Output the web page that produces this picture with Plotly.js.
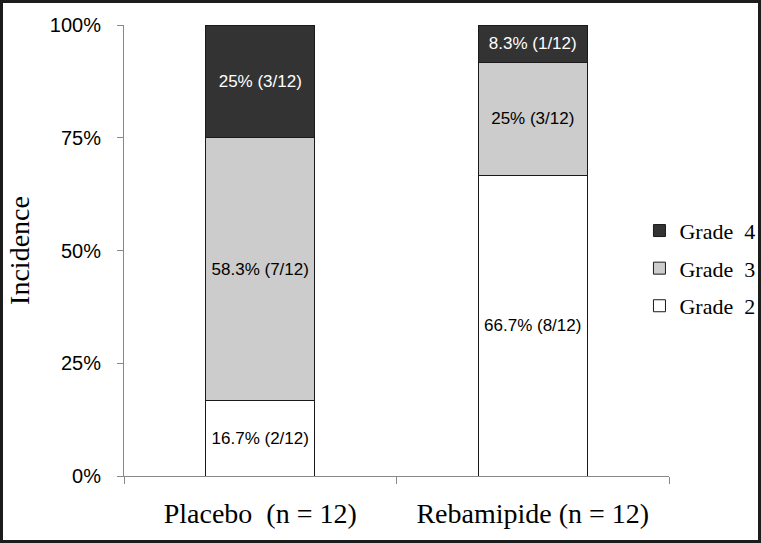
<!DOCTYPE html>
<html>
<head>
<meta charset="utf-8">
<script src="https://cdn.plot.ly/plotly-3.0.1.min.js"></script>
<style>
  body { margin: 0; background: #fff; }
  #frame { width: 755px; height: 537px; border: 3px solid #1c1c1c; }
</style>
</head>
<body>
<div id="frame"><div id="incidenceChart"></div></div>
<script>
// incidence by grade
const groups = ["Placebo\u00a0\u00a0(n = 12)", "Rebamipide (n = 12)"];
const grade2 = [16.7, 66.7];
const grade3 = [58.3, 25];
const grade4 = [25, 8.3];
const grade2Text = ["16.7% (2/12)", "66.7% (8/12)"];
const grade3Text = ["58.3% (7/12)", "25% (3/12)"];
const grade4Text = ["25% (3/12)", "8.3% (1/12)"];
const yTicks = [0, 25, 50, 75, 100];
const yTickText = ["0%", "25%", "50%", "75%", "100%"];

function plotIncidence() {
  const sans = "Liberation Sans, Arial, sans-serif";
  const serif = "Liberation Serif, Times New Roman, serif";
  const common = {
    x: groups,
    type: "bar",
    width: 0.4,
    textposition: "inside",
    insidetextanchor: "middle",
    textangle: 0,
    constraintext: "none",
    hoverinfo: "skip",
  };

  const trace = [
    {
      ...common,
      y: grade2,
      text: grade2Text,
      name: "Grade\u00a0\u00a02",
      legendgroup: "g2",
      legendrank: 3,
      marker: { color: "#ffffff", line: { color: "#1a1a1a", width: 1 } },
      textfont: { family: sans, size: 17, color: "#000" },
    },
    {
      ...common,
      y: grade3,
      text: grade3Text,
      name: "Grade\u00a0\u00a03",
      legendgroup: "g3",
      legendrank: 2,
      marker: { color: "#cccccc", line: { color: "#1a1a1a", width: 1 } },
      textfont: { family: sans, size: 17, color: "#000" },
    },
    {
      ...common,
      y: grade4,
      text: grade4Text,
      name: "Grade\u00a0\u00a04",
      legendgroup: "g4",
      legendrank: 1,
      marker: { color: "#333333", line: { color: "#1a1a1a", width: 1 } },
      textfont: { family: sans, size: 17, color: "#fff" },
    },
  ];

  const layout = {
    width: 755,
    height: 537,
    barmode: "stack",
    paper_bgcolor: "#fff",
    plot_bgcolor: "#fff",
    margin: { l: 121, r: 89, t: 22, b: 64, autoexpand: false },
    showlegend: true,
    legend: {
      xref: "container",
      yref: "container",
      x: 0.843,
      xanchor: "left",
      y: 0.615,
      yanchor: "top",
      traceorder: "grouped",
      tracegroupgap: 6,
      bgcolor: "rgba(0,0,0,0)",
      font: { family: serif, size: 22, color: "#000" },
    },
    xaxis: {
      showline: true,
      linecolor: "#888",
      linewidth: 1,
      ticks: "outside",
      tickson: "boundaries",
      ticklen: 7,
      tickcolor: "#888",
      ticklabelstandoff: 12,
      tickfont: { family: serif, size: 28, color: "#000" },
      showgrid: false,
      zeroline: false,
      fixedrange: true,
    },
    yaxis: {
      range: [0, 100],
      tickmode: "array",
      tickvals: yTicks,
      ticktext: yTickText,
      showline: true,
      linecolor: "#888",
      linewidth: 1,
      ticks: "outside",
      ticklen: 6,
      tickcolor: "#888",
      ticklabelstandoff: 12,
      tickfont: { family: sans, size: 20, color: "#000" },
      showgrid: false,
      zeroline: false,
      fixedrange: true,
      title: {
        text: "Incidence",
        standoff: 12,
        font: { family: serif, size: 28, color: "#000" },
      },
    },
  };

  Plotly.newPlot("incidenceChart", trace, layout, { displayModeBar: false, staticPlot: true });
}

plotIncidence();
</script>
</body>
</html>
